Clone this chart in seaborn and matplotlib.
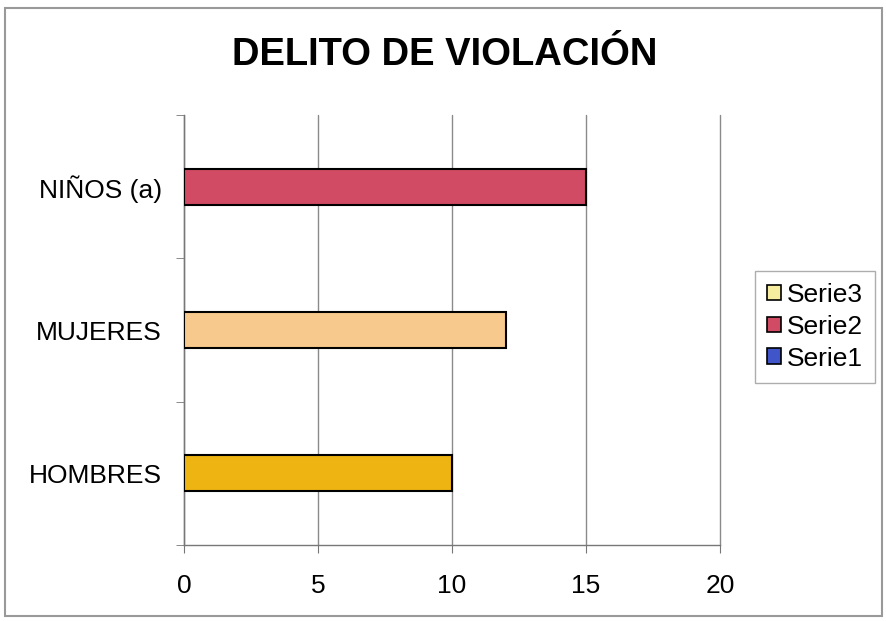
import matplotlib
matplotlib.use("Agg")
import matplotlib.pyplot as plt
from matplotlib.patches import Patch, Rectangle
import seaborn as sns
import pandas as pd

# data
categorias = ["NIÑOS (a)", "MUJERES", "HOMBRES"]
valores = [15, 12, 10]
colores_barras = ["#D14B64", "#F8C98C", "#EDB412"]
series = ["Serie3", "Serie2", "Serie1"]
colores_series = ["#F6EE9E", "#D14B64", "#3F55C9"]
x_ticks = [0, 5, 10, 15, 20]

sns.set_style("white")
plt.rcParams['font.family'] = ['Liberation Sans', 'DejaVu Sans']
plt.rcParams['text.color'] = 'black'
plt.rcParams['xtick.color'] = 'black'
plt.rcParams['ytick.color'] = 'black'

df = pd.DataFrame({"categoria": categorias, "valor": valores})

fig = plt.figure(figsize=(8.86, 6.21), dpi=100)
ax = fig.add_axes([184 / 886, 1 - 545 / 621, (720 - 184) / 886, (545 - 115) / 621])

sns.barplot(data=df, x="valor", y="categoria", hue="categoria", order=categorias,
            palette=dict(zip(categorias, colores_barras)), width=0.25,
            dodge=False, legend=False, edgecolor="black", linewidth=1.5,
            saturation=1, ax=ax, zorder=3)

ax.set_xlim(0, 20)
ax.set_ylim(2.5, -0.5)
ax.set_xticks(x_ticks)
ax.set_xlabel("")
ax.set_ylabel("")
ax.grid(axis="x", color="#8a8a8a", linewidth=1, zorder=0)
ax.grid(axis="y", visible=False)
for line in ax.get_xgridlines():
    line.set_clip_on(False)
for s in ["top", "right"]:
    ax.spines[s].set_visible(False)
for s in ["left", "bottom"]:
    ax.spines[s].set_color("#777777")
    ax.spines[s].set_linewidth(1)

ax.set_yticks([-0.5, 0.5, 1.5, 2.5], minor=True)
ax.tick_params(axis="y", which="major", length=0, pad=16, labelsize=19)
ax.tick_params(axis="y", which="minor", length=6, direction="out", color="#777777", left=True)
ax.tick_params(axis="x", length=6, direction="out", color="#777777", bottom=True, pad=15, labelsize=19)

handles = [Patch(facecolor=c, edgecolor="black", linewidth=1.2) for c in colores_series]
leg = fig.legend(handles, series, loc="upper left", bbox_to_anchor=(755 / 886, 1 - 271 / 621),
                 fontsize=19, frameon=True, fancybox=False, edgecolor="#999999",
                 handlelength=0.55, handleheight=0.55, handletextpad=0.2,
                 labelspacing=0.3, borderpad=0.45, borderaxespad=0)
leg.get_frame().set_linewidth(1)

fig.text(445 / 886, 1 - 55 / 621, "DELITO DE VIOLACIÓN", ha="center", va="center",
         fontsize=27.5, fontweight="bold")

fig.patches.append(Rectangle((5 / 886, 5 / 621), 877 / 886, 608 / 621, transform=fig.transFigure,
                             fill=False, edgecolor="#999999", linewidth=1.5))

fig.savefig("out.png", dpi=100)
